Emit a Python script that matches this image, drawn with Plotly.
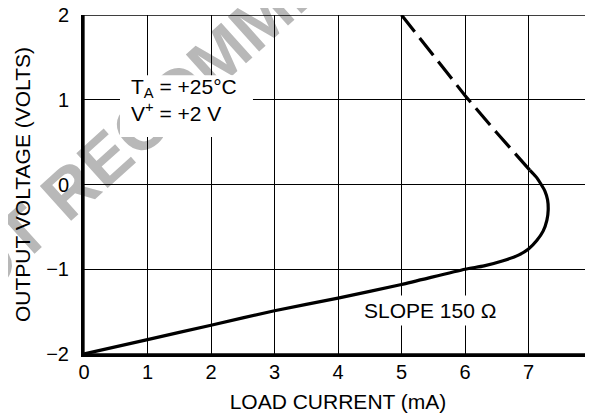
import plotly.graph_objects as go

# ---- data ----
current_solid = [0, 1, 2, 3, 4, 5, 6, 6.3, 6.6, 6.85, 7.0, 7.13, 7.23, 7.29, 7.31, 7.3, 7.26, 7.2, 7.12, 7.02]
voltage_solid = [-2, -1.83, -1.66, -1.49, -1.34, -1.18, -1.0, -0.96, -0.9, -0.83, -0.76, -0.66, -0.55, -0.42, -0.3, -0.18, -0.08, 0.0, 0.09, 0.17]
current_dashed = [7.02, 6.5, 6.0, 5.5, 5.0]
voltage_dashed = [0.17, 0.61, 1.05, 1.52, 2.0]
x_ticks = [0, 1, 2, 3, 4, 5, 6, 7, 8]
y_ticks = [-2, -1, 0, 1, 2]
y_tick_labels = ["\u22122", "\u22121", "0", "1", "2"]

FONT = "Liberation Sans, Arial, Helvetica, sans-serif"

fig = go.Figure()
fig.add_trace(go.Scatter(x=current_solid, y=voltage_solid, mode="lines",
                         line=dict(color="black", width=3.2, shape="spline", smoothing=0.6),
                         showlegend=False, hoverinfo="skip"))
fig.add_trace(go.Scatter(x=current_dashed, y=voltage_dashed, mode="lines",
                         line=dict(color="black", width=3.2, dash="22px,8px"),
                         showlegend=False, hoverinfo="skip"))

# watermark (gray diagonal text behind the grid)
wm_color = "#b8b8b8"
fig.add_shape(type="line", xref="paper", yref="paper",
              x0=-0.0823, y0=0.4354, x1=0.5028, y1=1.2248, layer="below",
              line=dict(color="rgba(0,0,0,0)", width=0),
              label=dict(text="<b>NOT RECOMMENDED</b>", textposition="middle", xanchor="center",
                         yanchor="middle", textangle=-42,
                         font=dict(family=FONT, size=68, color=wm_color)))

# thin frame (top / right borders)
fig.add_shape(type="rect", xref="x", yref="y", x0=0, y0=-2, x1=8, y1=2,
              layer="between", line=dict(color="black", width=1.3))

# white panel behind the condition text
fig.add_shape(type="rect", xref="x", yref="y", x0=0.567, x1=2.661, y0=0.56, y1=1.29,
              layer="above", line=dict(width=0), fillcolor="white")
fig.add_annotation(x=0.709, y=0.997, xref="x", yref="y", xanchor="left", yanchor="middle",
                   text="T<sub>A</sub> = +25°C<br>V<sup>+</sup> = +2 V", showarrow=False,
                   align="left", font=dict(family=FONT, size=21, color="black"))
fig.add_annotation(x=5.45, y=-1.49, xref="x", yref="y", text="SLOPE 150 Ω", showarrow=False,
                   bgcolor="white", borderpad=3,
                   font=dict(family=FONT, size=21, color="black"))

# page body has an 8px margin, so the margins are shifted to put the plot where the reference has it
fig.update_layout(
    width=593, height=415,
    margin=dict(l=76, r=9, t=7, b=69, autoexpand=False),
    paper_bgcolor="white", plot_bgcolor="rgba(0,0,0,0)",
    font=dict(family=FONT, size=20, color="black"),
)
fig.update_xaxes(range=[0, 8], tickvals=x_ticks, showgrid=True, gridcolor="black", gridwidth=1.2,
                 showline=True, linecolor="black", linewidth=3, zeroline=False, automargin=False,
                 ticks="", ticklabelstandoff=-2, ticklabeloverflow="allow",
                 title=dict(text="LOAD CURRENT (mA)", font=dict(size=21), standoff=13))
fig.update_yaxes(range=[-2, 2], tickvals=y_ticks, ticktext=y_tick_labels, showgrid=True,
                 gridcolor="black", gridwidth=1.2, automargin=False,
                 showline=True, linecolor="black", linewidth=3, zeroline=False,
                 ticks="", ticklabelstandoff=8, ticklabeloverflow="allow",
                 title=dict(text="OUTPUT VOLTAGE (VOLTS)", font=dict(size=21), standoff=10))

fig.write_html("out.html")
